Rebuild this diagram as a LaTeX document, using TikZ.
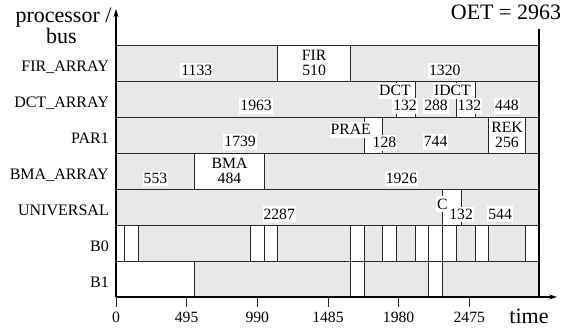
\documentclass[tikz,border=0pt]{standalone}
\usepackage{fontspec}
\setmainfont{Liberation Serif}
\usetikzlibrary{arrows.meta}
\definecolor{gFill}{HTML}{E8E8E8}
\definecolor{gInk}{HTML}{262626}
\tikzset{
  idlecell/.style={draw=gInk, fill=gFill, line width=0.9pt},
  busycell/.style={draw=gInk, fill=white, line width=0.9pt},
  durlabel/.style={fill=white, inner xsep=1pt, inner ysep=0.6pt, text height=12pt, text depth=2.3pt,
    anchor=base, font=\fontsize{15.7}{16}\selectfont},
  rowname/.style={inner sep=0pt, anchor=base east, font=\fontsize{16}{16}\selectfont},
  ticklabel/.style={inner sep=0pt, anchor=base, font=\fontsize{15.7}{16}\selectfont},
  bigtext/.style={inner sep=0pt, anchor=base, font=\fontsize{22}{20}\selectfont},
  axisarrow/.style={-{Stealth[length=8pt, width=5pt]}, line width=1.2pt, draw=black},
  tickline/.style={line width=0.9pt, draw=gInk},
  oetline/.style={line width=2pt, draw=black},
}

\begin{document}
\begin{tikzpicture}[x=1pt, y=-1pt]
  \useasboundingbox (0,0) rectangle (580,331);
  % titles
  \node[bigtext] (ylabA) at (63.5,22.5) {processor /};
  \node[bigtext] (ylabB) at (61.5,43.5) {bus};
  \node[bigtext] (oet) at (506,20) {OET = 2963};
  \node[bigtext] (tlab) at (529,323) {time};
  % row names
  \node[rowname] (nFir) at (109,71.5) {FIR\_ARRAY};
  \node[rowname] (nDct) at (109,107.5) {DCT\_ARRAY};
  \node[rowname] (nPar) at (109,143.5) {PAR1};
  \node[rowname] (nBma) at (109,179.5) {BMA\_ARRAY};
  \node[rowname] (nUni) at (109,215.5) {UNIVERSAL};
  \node[rowname] (nBa) at (109,251.5) {B0};
  \node[rowname] (nBb) at (109,287.5) {B1};
  \begin{scope}[xshift=116pt, x=0.14275pt]
    % FIR_ARRAY
    \draw[idlecell] (0,45) rectangle (1133,81);
    \draw[busycell] (1133,45) rectangle (1643,81);
    \draw[idlecell] (1643,45) rectangle (2963,81);
    \node[durlabel] (firA) at (566.5,75.5) {1133};
    \node[durlabel] (firN) at (1388,60.5) {FIR};
    \node[durlabel] (firD) at (1388,75.5) {510};
    \node[durlabel] (firB) at (2303,75.5) {1320};
    % DCT_ARRAY
    \draw[idlecell] (0,81) rectangle (1963,117);
    \draw[busycell] (1963,81) rectangle (2095,117);
    \draw[idlecell] (2095,81) rectangle (2383,117);
    \draw[busycell] (2383,81) rectangle (2515,117);
    \draw[idlecell] (2515,81) rectangle (2963,117);
    \node[durlabel] (dctA) at (981.5,111) {1963};
    \node[durlabel] (dctN) at (1954,96) {DCT};
    \node[durlabel] (dctD) at (2025,111) {132};
    \node[durlabel] (dctB) at (2242,111) {288};
    \node[durlabel] (idctN) at (2357,96) {IDCT};
    \node[durlabel] (idctD) at (2476,111) {132};
    \node[durlabel] (dctC) at (2739,111) {448};
    % PAR1
    \draw[idlecell] (0,117) rectangle (1739,153);
    \draw[busycell] (1739,117) rectangle (1867,153);
    \draw[idlecell] (1867,117) rectangle (2611,153);
    \draw[busycell] (2611,117) rectangle (2867,153);
    \draw[idlecell] (2867,117) rectangle (2963,153);
    \node[durlabel] (parA) at (869.5,147) {1739};
    \node[durlabel] (praeN) at (1644,135) {PRAE};
    \node[durlabel] (praeD) at (1881,148) {128};
    \node[durlabel] (parB) at (2239,147) {744};
    \node[durlabel] (rekN) at (2739,132.5) {REK};
    \node[durlabel] (rekD) at (2739,147.5) {256};
    % BMA_ARRAY
    \draw[idlecell] (0,153) rectangle (553,189);
    \draw[busycell] (553,153) rectangle (1037,189);
    \draw[idlecell] (1037,153) rectangle (2963,189);
    \node[durlabel] (bmaA) at (276.5,183.5) {553};
    \node[durlabel] (bmaN) at (795,168.5) {BMA};
    \node[durlabel] (bmaD) at (795,183.5) {484};
    \node[durlabel] (bmaB) at (2000,183.5) {1926};
    % UNIVERSAL
    \draw[idlecell] (0,189) rectangle (2287,225);
    \draw[busycell] (2287,189) rectangle (2419,225);
    \draw[idlecell] (2419,189) rectangle (2963,225);
    \node[durlabel] (uniA) at (1143.5,219) {2287};
    \node[durlabel] (cN) at (2287,209) {C};
    \node[durlabel] (cD) at (2418,219.3) {132};
    \node[durlabel] (uniB) at (2691,219) {544};
    % buses
    \foreach \a/\b/\s in {0/60/busycell, 60/156/busycell, 156/941/idlecell, 941/1037/busycell,
        1037/1133/busycell, 1133/1643/idlecell, 1643/1739/busycell, 1739/1867/idlecell,
        1867/1963/busycell, 1963/2095/idlecell, 2095/2191/busycell, 2191/2287/busycell,
        2287/2383/busycell, 2383/2515/idlecell, 2515/2611/busycell, 2611/2867/idlecell,
        2867/2963/busycell}
      \draw[\s] (\a,225) rectangle (\b,261);
    \foreach \a/\b/\s in {0/553/busycell, 553/1643/idlecell, 1643/1739/busycell,
        1739/2191/idlecell, 2191/2287/busycell, 2287/2963/idlecell}
      \draw[\s] (\a,261) rectangle (\b,297);
    % OET line
    \coordinate (oetTop) at (2963,29);
    \coordinate (oetBot) at (2963,297);
    \draw[oetline] (oetTop) -- (oetBot);
    % axes
    \coordinate (orig) at (0,297);
    \coordinate (yTip) at (0,9);
    \coordinate (xTip) at (3090,297);
    \draw[axisarrow] (orig) -- (yTip);
    \draw[axisarrow] (orig) -- (xTip);
    \foreach \t in {0,495,990,1485,1980,2475} {
      \coordinate (tk\t) at (\t,297);
      \draw[tickline] (tk\t) -- ++(0,9.5);
      \node[ticklabel] (tl\t) at (\t,322) {\t};
    }
  \end{scope}
\end{tikzpicture}
\end{document}
